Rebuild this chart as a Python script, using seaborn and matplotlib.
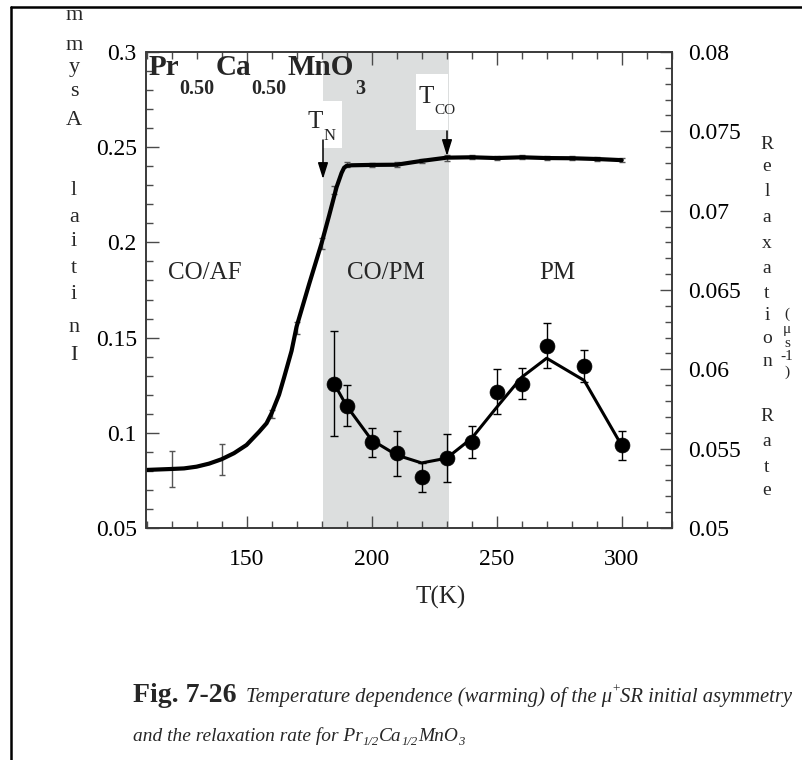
import matplotlib
matplotlib.use("Agg")
import matplotlib.pyplot as plt
import seaborn as sns
from matplotlib.ticker import MultipleLocator, FormatStrFormatter
from matplotlib.patches import Rectangle, FancyArrowPatch
from matplotlib.lines import Line2D

# ---------------- data ----------------
asym_curve_T = [110, 120, 125, 130, 135, 140, 145, 150, 155, 158, 160, 163, 165, 168, 170,
                175, 180, 183, 186, 188, 189, 190, 192, 200, 210, 215, 220, 230, 240, 250,
                260, 270, 280, 290, 300]
asym_curve_val = [0.0805, 0.081, 0.0813, 0.0822, 0.0838, 0.0861, 0.0893, 0.0936, 0.1005, 0.105,
                  0.1102, 0.120, 0.129, 0.143, 0.1557, 0.178, 0.1995, 0.214, 0.229, 0.2365,
                  0.2392, 0.2402, 0.2405, 0.2407, 0.2408, 0.2418, 0.2428, 0.2445, 0.2447, 0.2443,
                  0.2447, 0.2443, 0.2442, 0.2438, 0.2432]

asym_T = [120, 140, 160, 170, 180, 185, 190, 200, 210, 220, 230, 240, 250, 260, 270, 280, 290, 300]
asym_val = [0.081, 0.086, 0.110, 0.155, 0.1995, 0.2275, 0.241, 0.2407, 0.2408, 0.2428, 0.2445,
            0.2447, 0.2443, 0.2447, 0.2443, 0.2442, 0.2438, 0.2432]
asym_err = [0.0096, 0.008, 0.002, 0.003, 0.003, 0.002, 0.0012, 0.001, 0.0012, 0.001, 0.0015,
            0.001, 0.001, 0.001, 0.001, 0.001, 0.001, 0.001]

rate_T = [185, 190, 200, 210, 220, 230, 240, 250, 260, 270, 285, 300]
rate_val = [0.0591, 0.0577, 0.0554, 0.0547, 0.0532, 0.0544, 0.0554, 0.0586, 0.0591, 0.0615,
            0.0602, 0.0552]
rate_err = [0.0033, 0.0013, 0.0009, 0.0014, 0.0009, 0.0015, 0.0010, 0.0014, 0.0010, 0.0014,
            0.0010, 0.0009]
rate_fit = [0.0591, 0.0577, 0.05555, 0.0546, 0.0541, 0.0544, 0.05565, 0.0576, 0.0595, 0.0607,
            0.0593, 0.0552]

shade_range = (180.5, 231)
x_ticks_major = [150, 200, 250, 300]

# ---------------- style ----------------
sns.set_style("ticks")
plt.rcParams["font.family"] = ["Liberation Serif", "DejaVu Serif"]

W, H = 803, 760
fig = plt.figure(figsize=(W / 100, H / 100), dpi=100)
fig.patch.set_facecolor("white")
renderer = fig.canvas.get_renderer()


def fx(x):
    return x / W


def fy(y):
    return 1 - y / H


L, R, T, B = 146.5, 671.7, 52, 528
ax = fig.add_axes([fx(L), fy(B), (R - L) / W, (B - T) / H])
ax2 = ax.twinx()

spine_c = "#3a3a3a"
tick_c = "#4a4a4a"

ax.axvspan(*shade_range, color="#dcdede", lw=0, zorder=0.5)

sns.lineplot(x=asym_curve_T, y=asym_curve_val, ax=ax, color="black", linewidth=3.0,
             estimator=None, sort=False, zorder=3)
ax.errorbar(asym_T, asym_val, yerr=asym_err, fmt="none", ecolor="#555555", elinewidth=1.0,
            capsize=2.5, capthick=1.0, zorder=2.5)

sns.lineplot(x=rate_T, y=rate_fit, ax=ax2, color="black", linewidth=2.2, estimator=None,
             sort=False, zorder=3)
ax2.errorbar(rate_T, rate_val, yerr=rate_err, fmt="none", ecolor="black", elinewidth=1.0,
             capsize=3, capthick=1.0, zorder=2.5)
sns.scatterplot(x=rate_T, y=rate_val, ax=ax2, color="black", s=115, edgecolor="black",
                linewidth=0.5, zorder=4)

ax.set_xlim(110, 320)
ax.set_ylim(0.05, 0.3)
ax2.set_ylim(0.05, 0.08)

ax.xaxis.set_major_locator(MultipleLocator(50))
ax.xaxis.set_minor_locator(MultipleLocator(10))
ax.yaxis.set_major_locator(MultipleLocator(0.05))
ax.yaxis.set_minor_locator(MultipleLocator(0.01))
ax2.yaxis.set_major_locator(MultipleLocator(0.005))
ax2.yaxis.set_minor_locator(MultipleLocator(0.001))
ax.xaxis.set_major_formatter(FormatStrFormatter("%g"))
ax.yaxis.set_major_formatter(FormatStrFormatter("%g"))
ax2.yaxis.set_major_formatter(FormatStrFormatter("%g"))
ax.set_xticks(x_ticks_major)

for a in (ax, ax2):
    for s in a.spines.values():
        s.set_color(spine_c)
        s.set_linewidth(1.2)
    a.set_xlabel("")
    a.set_ylabel("")

ax.tick_params(axis="both", which="both", direction="in", top=True, right=False,
               color=tick_c, labelcolor="black", width=1.0)
ax.tick_params(which="major", length=9)
ax.tick_params(which="minor", length=5)
ax.tick_params(axis="y", pad=7, labelsize=17)
ax.tick_params(axis="x", pad=15, labelsize=17)
ax2.tick_params(axis="y", which="both", direction="in", right=True, left=False,
                color=tick_c, labelcolor="black", width=1.0, pad=12, labelsize=17)
ax2.tick_params(axis="y", which="major", length=9)
ax2.tick_params(axis="y", which="minor", length=5)

ax.set_xlabel("T(K)", fontsize=18)
ax.xaxis.set_label_coords((441 - L) / (R - L), (B - 586) / (B - T))

# white boxes behind the transition labels
ax.add_patch(Rectangle((fx(306), fy(148)), 36 / W, 47 / H, transform=fig.transFigure,
                       facecolor="white", edgecolor="none", zorder=1))
ax.add_patch(Rectangle((fx(416), fy(130)), 32 / W, 56 / H, transform=fig.transFigure,
                       facecolor="white", edgecolor="none", zorder=1))


def chain(pieces, x0, base_y, scale=1.0):
    x = x0
    texts = []
    for s, size, weight, style, dy, gap in pieces:
        x += gap
        t = fig.text(fx(x), fy(base_y + dy * scale), s, fontsize=size * scale,
                     fontweight=weight, fontstyle=style, ha="left", va="baseline")
        bb = t.get_window_extent(renderer)
        x = bb.x1
        texts.append(t)
    return x, texts


def fitted(pieces, x0, base_y, target_w):
    x_end, texts = chain(pieces, x0, base_y)
    for t in texts:
        t.remove()
    k = target_w / (x_end - x0)
    return chain(pieces, x0, base_y, scale=k)[0]


# region labels
for txt, xc in (("CO/AF", 205), ("CO/PM", 386), ("PM", 557)):
    fig.text(fx(xc), fy(279), txt, fontsize=18, ha="center", va="baseline")

# compound label
chain([("Pr", 21, "bold", "normal", 0, 0), ("0.50", 14.5, "bold", "normal", 19, 0),
       ("Ca", 21, "bold", "normal", 0, 1), ("0.50", 14.5, "bold", "normal", 19, 0),
       ("MnO", 21, "bold", "normal", 0, 1), ("3", 14.5, "bold", "normal", 19, 1)], 149, 75)

# transition labels
chain([("T", 18, "normal", "normal", 0, 0), ("N", 12, "normal", "normal", 12, 0)], 308, 128)
chain([("T", 18, "normal", "normal", 0, 0), ("CO", 11, "normal", "normal", 11, 0)], 419, 103)

arrow_kw = dict(arrowstyle="-|>,head_length=0.7,head_width=0.22", color="black", lw=1.1,
                shrinkA=0, shrinkB=0, mutation_scale=14)
fig.add_artist(FancyArrowPatch((fx(323), fy(140)), (fx(323), fy(179)),
                               transform=fig.transFigure, **arrow_kw))
fig.add_artist(FancyArrowPatch((fx(447), fy(131)), (fx(447), fy(156)),
                               transform=fig.transFigure, **arrow_kw))

# stacked axis titles (as they appear in the source)
left_chars = ["m", "m", "y", "s", "A", "l", "a", "i", "t", "i", "n", "I"]
left_base = [20, 50, 72, 96, 125, 195, 222, 246, 273, 299, 332, 360]
for c, b in zip(left_chars, left_base):
    fig.text(fx(74), fy(b), c, fontsize=16, ha="center", va="baseline")

right_chars = list("Relaxation") + list("Rate")
right_base = [149, 171, 196, 222, 248, 273, 298, 320, 343, 366, 421, 446, 472, 495]
for c, b in zip(right_chars, right_base):
    fig.text(fx(767), fy(b), c, fontsize=14, ha="center", va="baseline")
unit_chars = ["(", "μ", "s", "-1", ")"]
unit_base = [318, 333, 347, 360, 376]
for c, b in zip(unit_chars, unit_base):
    fig.text(fx(787), fy(b), c, fontsize=11, ha="center", va="baseline")

# caption
x1, _ = chain([("Fig. 7-26", 20, "bold", "normal", 0, 0)], 133, 702)
fitted([("Temperature dependence (warming) of the μ", 10, "normal", "italic", 0, 0),
        ("+", 6.5, "normal", "normal", -6, 0),
        ("SR initial asymmetry", 10, "normal", "italic", 0, 0)], x1 + 10, 702, 548)
fitted([("and the relaxation rate for Pr", 10, "normal", "italic", 0, 0),
        ("1/2", 6.5, "normal", "italic", 3, 0),
        ("Ca", 10, "normal", "italic", 0, 0),
        ("1/2", 6.5, "normal", "italic", 3, 0),
        ("MnO", 10, "normal", "italic", 0, 0),
        ("3", 6.5, "normal", "italic", 3, 0)], 133, 741, 330)

# page frame
fig.add_artist(Line2D([fx(11), fx(11)], [fy(7), 0], color="black", lw=1.8))
fig.add_artist(Line2D([fx(11), 1], [fy(7), fy(7)], color="black", lw=1.8))

fig.savefig("out.png", dpi=100)
